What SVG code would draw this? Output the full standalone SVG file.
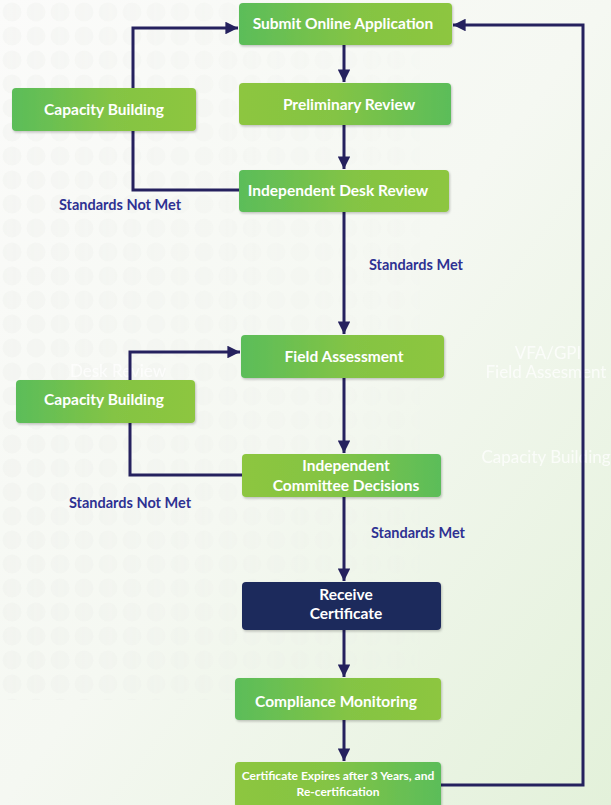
<svg xmlns="http://www.w3.org/2000/svg" width="611" height="805" viewBox="0 0 611 805">
<defs>
<linearGradient id="bg" x1="0" y1="0" x2="1" y2="1">
<stop offset="0" stop-color="#fbfbfa"/>
<stop offset="0.5" stop-color="#f5f8f2"/>
<stop offset="1" stop-color="#e3f1da"/>
</linearGradient>
<linearGradient id="gL" x1="0" y1="0" x2="1" y2="0">
<stop offset="0" stop-color="#5bbd5a"/>
<stop offset="0.55" stop-color="#84c444"/>
<stop offset="1" stop-color="#8dc63f"/>
</linearGradient>
<linearGradient id="gR" x1="1" y1="0" x2="0" y2="0">
<stop offset="0" stop-color="#5bbd5a"/>
<stop offset="0.55" stop-color="#84c444"/>
<stop offset="1" stop-color="#8dc63f"/>
</linearGradient>
<pattern id="dots" width="24" height="24" patternUnits="userSpaceOnUse">
<circle cx="12" cy="12" r="9.5" fill="#e9ebe7"/>
</pattern>
<linearGradient id="fadeG" x1="0" y1="0" x2="1" y2="0">
<stop offset="0" stop-color="#fff" stop-opacity="0.8"/>
<stop offset="1" stop-color="#fff" stop-opacity="0"/>
</linearGradient>
<mask id="fade">
<rect x="0" y="0" width="611" height="805" fill="url(#fadeG)"/>
</mask>
<filter id="sh" x="-10%" y="-20%" width="120%" height="150%">
<feDropShadow dx="1" dy="1.5" stdDeviation="1.2" flood-color="#000" flood-opacity="0.22"/>
</filter>
<marker id="ah" viewBox="0 0 10 10" refX="10" refY="5" markerWidth="4.2" markerHeight="4.2" orient="auto" markerUnits="strokeWidth">
<path d="M0,0 L10,5 L0,10 z" fill="#25215e"/>
</marker>
</defs>
<style>
.box{filter:url(#sh)}
.t{font-family:Lato,"Open Sans",sans-serif;font-weight:bold;fill:#fff;text-anchor:middle}
.lbl{font-family:Lato,"Open Sans",sans-serif;font-weight:bold;fill:#2e3192;font-size:14.5px;text-anchor:middle}
.c{fill:none;stroke:#25215e;stroke-width:3}
.wm{font-family:Lato,"Open Sans",sans-serif;fill:#fff;font-size:17px;text-anchor:middle;opacity:0.75}
</style>
<rect width="611" height="805" fill="url(#bg)"/>
<rect x="0" y="0" width="420" height="700" fill="url(#dots)" mask="url(#fade)" opacity="0.35"/>
<text class="wm" x="118" y="377">Desk Review</text>
<text class="wm" x="548" y="359">VFA/GPI</text>
<text class="wm" x="546" y="378">Field Assesment</text>
<text class="wm" x="546" y="463">Capacity Building</text>

<g id="connectors">
<line class="c" x1="344" y1="45" x2="344" y2="82" marker-end="url(#ah)"/>
<line class="c" x1="344" y1="125" x2="344" y2="169" marker-end="url(#ah)"/>
<line class="c" x1="344" y1="212" x2="344" y2="334" marker-end="url(#ah)"/>
<polyline class="c" points="240,190 133,190 133,28 238,28" marker-end="url(#ah)"/>
<line class="c" x1="344" y1="378" x2="344" y2="453" marker-end="url(#ah)"/>
<polyline class="c" points="243,475 130,475 130,352 240,352" marker-end="url(#ah)"/>
<line class="c" x1="344" y1="497" x2="344" y2="581" marker-end="url(#ah)"/>
<line class="c" x1="344" y1="630" x2="344" y2="677" marker-end="url(#ah)"/>
<line class="c" x1="344" y1="720" x2="344" y2="761" marker-end="url(#ah)"/>
<polyline class="c" points="440,785 583,785 583,25 453,25" marker-end="url(#ah)"/>
<text class="lbl" x="416" y="270">Standards Met</text>
<text class="lbl" x="120" y="210">Standards Not Met</text>
<text class="lbl" x="418" y="538">Standards Met</text>
<text class="lbl" x="130" y="508">Standards Not Met</text>
</g>

<g id="n1"><rect class="box" x="239" y="3" width="213" height="42" rx="4" fill="url(#gL)"/><text class="t" x="343" y="29" font-size="15.5">Submit Online Application</text></g>
<g id="n2"><rect class="box" x="239" y="83" width="212" height="42" rx="4" fill="url(#gR)"/><text class="t" x="349" y="110" font-size="15.5">Preliminary Review</text></g>
<g id="n3"><rect class="box" x="239" y="170" width="210" height="42" rx="4" fill="url(#gL)"/><text class="t" x="338" y="196" font-size="15.5">Independent Desk Review</text></g>
<g id="cb1"><rect class="box" x="12" y="88" width="184" height="43" rx="4" fill="url(#gL)"/><text class="t" x="104" y="115" font-size="15.5">Capacity Building</text></g>
<g id="n4"><rect class="box" x="241" y="335" width="203" height="43" rx="4" fill="url(#gL)"/><text class="t" x="344" y="362" font-size="15.5">Field Assessment</text></g>
<g id="cb2"><rect class="box" x="16" y="380" width="179" height="43" rx="4" fill="url(#gL)"/><text class="t" x="104" y="405" font-size="15.5">Capacity Building</text></g>
<g id="n5"><rect class="box" x="242" y="454" width="199" height="43" rx="4" fill="url(#gR)"/><text class="t" x="346" y="471" font-size="15.5">Independent</text><text class="t" x="346" y="491" font-size="15.5">Committee Decisions</text></g>
<g id="n6"><rect class="box" x="242" y="582" width="199" height="48" rx="4" fill="#1f2a5c"/><text class="t" x="346" y="600" font-size="15.5">Receive</text><text class="t" x="346" y="619" font-size="15.5">Certificate</text></g>
<g id="n7"><rect class="box" x="235" y="678" width="206" height="42" rx="4" fill="url(#gL)"/><text class="t" x="336" y="707" font-size="15.5">Compliance Monitoring</text></g>
<g id="n8"><rect class="box" x="235" y="762" width="206" height="46" rx="4" fill="url(#gR)"/><text class="t" x="338" y="780" font-size="12">Certificate Expires after 3 Years, and</text><text class="t" x="338" y="796" font-size="12">Re-certification</text></g>
</svg>
